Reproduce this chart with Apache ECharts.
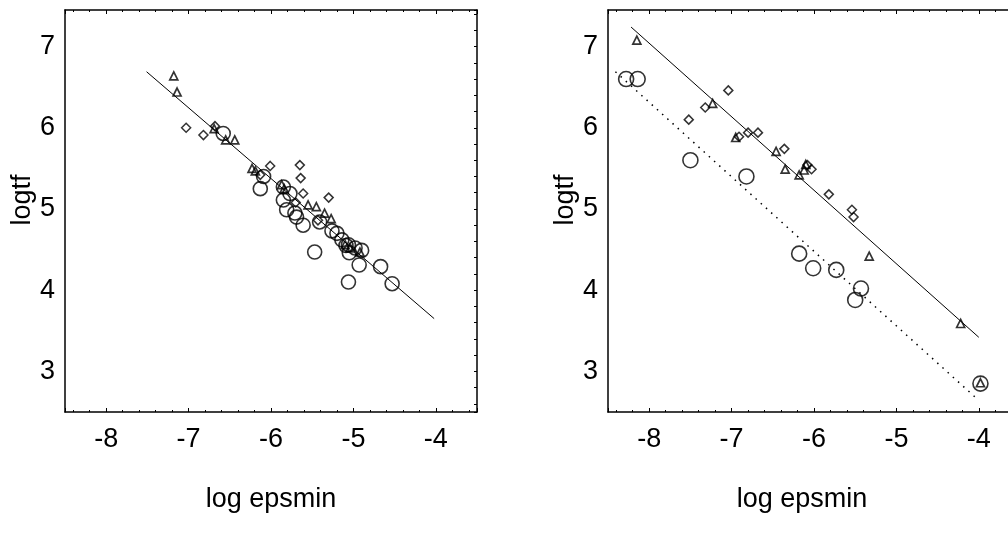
<!DOCTYPE html>
<html>
<head>
<meta charset="utf-8">
<script src="https://cdn.jsdelivr.net/npm/echarts@6/dist/echarts.min.js"></script>
<style>
html,body{margin:0;padding:0;background:#fff;}
#chart{width:1008px;height:537px;}
</style>
</head>
<body>
<div id="chart"></div>
<script>
// ---- data (log epsmin, logtf) ----
const xTitle = 'log epsmin';
const yTitle = 'logtf';
const xRange = [-8.5, -3.5];
const yRange = [2.5, 7.45];

const leftTriangles = [[-7.18,6.64],[-7.14,6.44],[-6.69,5.99],[-6.55,5.85],[-6.44,5.85],[-6.23,5.50],[-6.19,5.47],[-5.87,5.30],[-5.84,5.25],[-5.55,5.05],[-5.45,5.03],[-5.35,4.95],[-5.27,4.88],[-5.10,4.56],[-5.04,4.52],[-4.92,4.47]];
const leftDiamonds = [[-7.03,6.00],[-6.82,5.91],[-6.68,6.02],[-6.13,5.42],[-6.01,5.53],[-5.65,5.54],[-5.64,5.38],[-5.61,5.19],[-5.30,5.14],[-5.43,4.86],[-5.70,5.08]];
const leftCircles = [[-6.58,5.93],[-6.09,5.40],[-6.13,5.25],[-5.85,5.27],[-5.85,5.11],[-5.77,5.19],[-5.81,4.99],[-5.71,4.95],[-5.69,4.90],[-5.61,4.80],[-5.41,4.84],[-5.26,4.73],[-5.20,4.70],[-5.14,4.62],[-5.09,4.55],[-5.06,4.56],[-4.98,4.52],[-4.90,4.49],[-5.05,4.46],[-5.47,4.47],[-4.93,4.31],[-4.67,4.29],[-5.06,4.10],[-4.53,4.08]];
const leftFit = [[-7.51,6.69],[-4.02,3.65]];

const rightTriangles = [[-8.15,7.08],[-7.23,6.30],[-6.95,5.88],[-6.46,5.71],[-6.35,5.49],[-6.18,5.42],[-6.12,5.48],[-6.10,5.55],[-5.33,4.42],[-4.22,3.59],[-3.98,2.86]];
const rightDiamonds = [[-7.04,6.46],[-7.32,6.25],[-7.52,6.10],[-6.91,5.89],[-6.80,5.94],[-6.68,5.94],[-6.36,5.74],[-6.03,5.49],[-6.08,5.54],[-5.82,5.18],[-5.54,4.99],[-5.52,4.90]];
const rightCircles = [[-8.28,6.60],[-8.14,6.60],[-7.50,5.60],[-6.82,5.40],[-6.18,4.45],[-6.01,4.27],[-5.73,4.25],[-5.43,4.02],[-5.50,3.88],[-3.98,2.85]];
const rightFitSolid = [[-8.22,7.24],[-4.00,3.42]];
const rightFitDotted = [[-8.41,6.69],[-4.03,2.67]];

// ---- chart ----
const FONT = 'Liberation Sans, Arial, sans-serif';
const intLabel = v => (Math.abs(v - Math.round(v)) < 1e-6 ? String(Math.round(v)) : '');
const lineStyle = {color:'#000', width:1.5};

function xAxes(grid, shiftTitle) {
  return [
    {type:'value', gridIndex:grid, position:'bottom', min:xRange[0], max:xRange[1], splitNumber:5,
     axisLine:{show:true, onZero:false, lineStyle}, splitLine:{show:false},
     axisTick:{show:true, inside:true, length:4, lineStyle:{color:'#000', width:1}},
     minorTick:{show:true, splitNumber:5, length:2, lineStyle:{color:'#000', width:1}},
     axisLabel:{formatter:intLabel, color:'#000', fontFamily:FONT, fontSize:27, margin:14, showMinLabel:false, showMaxLabel:false},
     name:xTitle, nameLocation:'middle', nameGap:74,
     nameTextStyle:{color:'#000', fontFamily:FONT, fontSize:27, padding:shiftTitle}},
    {type:'value', gridIndex:grid, position:'top', min:xRange[0], max:xRange[1], splitNumber:5,
     axisLine:{show:true, onZero:false, lineStyle}, splitLine:{show:false},
     axisTick:{show:true, inside:true, length:4, lineStyle:{color:'#000', width:1}},
     minorTick:{show:true, splitNumber:5, length:2, lineStyle:{color:'#000', width:1}},
     axisLabel:{show:false}}
  ];
}
function yAxes(grid) {
  return [
    {type:'value', gridIndex:grid, position:'left', min:yRange[0], max:yRange[1], splitNumber:5,
     axisLine:{show:true, onZero:false, lineStyle}, splitLine:{show:false},
     axisTick:{show:false}, minorTick:{show:false},
     axisLabel:{formatter:intLabel, color:'#000', fontFamily:FONT, fontSize:27, margin:10, showMinLabel:false, showMaxLabel:false},
     name:yTitle, nameLocation:'middle', nameGap:28,
     nameTextStyle:{color:'#000', fontFamily:FONT, fontSize:27, padding:[0,0,0,22]}},
    {type:'value', gridIndex:grid, position:'right', min:yRange[0], max:yRange[1], splitNumber:5,
     axisLine:{show:true, onZero:false, lineStyle}, splitLine:{show:false},
     axisTick:{show:true, inside:true, length:3, lineStyle:{color:'#000', width:1}},
     minorTick:{show:true, splitNumber:5, length:3, lineStyle:{color:'#000', width:1}},
     axisLabel:{show:false}}
  ];
}
function scatter(data, xi, yi, symbol, size, bw) {
  return {type:'scatter', xAxisIndex:xi, yAxisIndex:yi, data, symbol, symbolSize:size,
          itemStyle:{color:'rgba(0,0,0,0)', borderColor:'#000', borderWidth:bw}, silent:true, z:3};
}
function fit(data, xi, yi, type, width) {
  return {type:'line', xAxisIndex:xi, yAxisIndex:yi, data, symbol:'none', silent:true, z:2,
          lineStyle:{color:'#000', width, type}};
}

const option = {
  animation:false,
  backgroundColor:'#fff',
  grid:[
    {left:65, top:10, width:412, height:402, containLabel:false, outerBoundsMode:'none'},
    {left:608, top:10, width:412, height:402, containLabel:false, outerBoundsMode:'none'}
  ],
  xAxis:[...xAxes(0, [0,0,0,0]), ...xAxes(1, [0,24,0,0])],
  yAxis:[...yAxes(0), ...yAxes(1)],
  series:[
    fit(leftFit, 0, 0, 'solid', 1),
    scatter(leftCircles, 0, 0, 'circle', 14, 1.6),
    scatter(leftDiamonds, 0, 0, 'diamond', 9, 1.5),
    scatter(leftTriangles, 0, 0, 'triangle', 8, 1.7),
    fit(rightFitSolid, 2, 2, 'solid', 1),
    fit(rightFitDotted, 2, 2, [1.5, 5.5], 1.5),
    scatter(rightCircles, 2, 2, 'circle', 15, 1.6),
    scatter(rightDiamonds, 2, 2, 'diamond', 9, 1.5),
    scatter(rightTriangles, 2, 2, 'triangle', 8, 1.7)
  ]
};
const chart = echarts.init(document.getElementById('chart'), null, {renderer:'canvas'});
chart.setOption(option);
</script>
</body>
</html>
